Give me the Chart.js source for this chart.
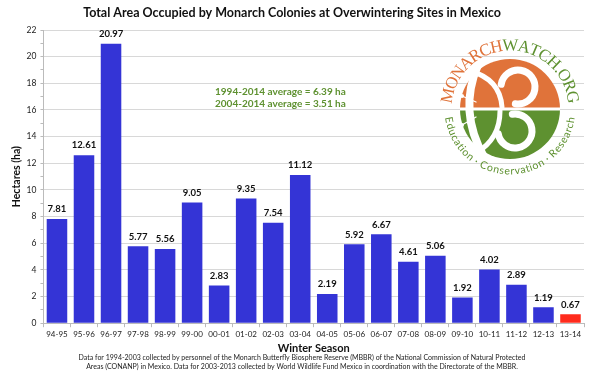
<!DOCTYPE html>
<html><head><meta charset="utf-8">
<script src="https://cdn.jsdelivr.net/npm/chart.js@4.4.1/dist/chart.umd.min.js"></script>
<style>html,body{margin:0;padding:0;background:#fff}#wrap{width:600px;height:377px}</style>
</head><body><div id="wrap"><canvas id="c" width="600" height="377"></canvas></div>
<script>
const seasons = ["94-95","95-96","96-97","97-98","98-99","99-00","00-01","01-02","02-03","03-04","04-05","05-06","06-07","07-08","08-09","09-10","10-11","11-12","12-13","13-14"];
const hectares = [7.81,12.61,20.97,5.77,5.56,9.05,2.83,9.35,7.54,11.12,2.19,5.92,6.67,4.61,5.06,1.92,4.02,2.89,1.19,0.67];
const averageNotes = ["1994-2014 average = 6.39 ha","2004-2014 average = 3.51 ha"];
const footnote = ["Data for 1994-2003 collected by personnel of the Monarch Butterfly Biosphere Reserve (MBBR) of the National Commission of Natural Protected","Areas (CONANP) in Mexico. Data for 2003-2013 collected by World Wildlife Fund Mexico in coordination with the Directorate of the MBBR."];
const logoTop = ["MONARCH","WATCH.ORG"];
const logoBottom = "Education · Conservation · Research";
const FONT = "Lato, 'Open Sans', sans-serif";
const BLUE = "#3434d6", RED = "#ff2b1c", GREEN = "#5e9130", ORANGE = "#e0733a";

const extras = {
  id: 'extras',
  afterDatasetsDraw(chart) {
    const ctx = chart.ctx;
    const meta = chart.getDatasetMeta(0);
    ctx.save();
    ctx.fillStyle = '#111';
    ctx.font = "bold 9.5px " + FONT;
    ctx.textAlign = 'center';
    ctx.textBaseline = 'bottom';
    meta.data.forEach((bar, i) => {
      ctx.fillText(hectares[i].toFixed(2), bar.x, bar.y - 5);
    });
    // averages
    ctx.fillStyle = GREEN;
    ctx.font = "bold 10px " + FONT;
    ctx.textAlign = 'left';
    ctx.textBaseline = 'middle';
    ctx.fillText(averageNotes[0], 215, 92);
    ctx.fillText(averageNotes[1], 215, 104);
    // footnote
    ctx.textAlign = 'center';
    ctx.fillStyle = '#222';
    ctx.font = "7px " + FONT;
    ctx.fillText(footnote[0], 302, 358);
    ctx.fillText(footnote[1], 302, 367);
    // logo
    const cx = 510, cy = 109, r = 50;
    ctx.beginPath(); ctx.arc(cx, cy, r, Math.PI, 2*Math.PI); ctx.closePath();
    ctx.fillStyle = ORANGE; ctx.fill();
    ctx.beginPath(); ctx.arc(cx, cy, r, 0, Math.PI); ctx.closePath();
    ctx.fillStyle = GREEN; ctx.fill();
    ctx.fillStyle = '#fff';
    ctx.fillRect(cx - r, cy - 1.5, 2*r, 3);
    // butterfly white strokes
    ctx.strokeStyle = '#fff'; ctx.lineCap = 'round';
    ctx.lineWidth = 8;
    ctx.beginPath(); ctx.moveTo(cx - 32, cy - 44); ctx.quadraticCurveTo(cx - 52, cy + 2, cx - 26, cy + 48); ctx.stroke();
    ctx.lineWidth = 7;
    ctx.beginPath(); ctx.arc(cx + 8, cy - 22, 17, Math.PI * 1.05, Math.PI * 2.55); ctx.stroke();
    ctx.beginPath(); ctx.arc(cx + 5, cy + 22, 17, Math.PI * 1.45, Math.PI * 2.95); ctx.stroke();
    ctx.lineWidth = 5;
    ctx.beginPath(); ctx.moveTo(cx - 40, cy - 38); ctx.quadraticCurveTo(cx - 10, cy - 30, cx - 8, cy - 2); ctx.stroke();
    ctx.beginPath(); ctx.moveTo(cx - 34, cy + 44); ctx.quadraticCurveTo(cx - 10, cy + 30, cx - 10, cy + 2); ctx.stroke();
    ctx.lineWidth = 1.3;
    ctx.beginPath(); ctx.moveTo(cx - 34, cy - 7); ctx.lineTo(cx - 48, cy - 13); ctx.stroke();
    ctx.beginPath(); ctx.moveTo(cx - 34, cy + 8); ctx.lineTo(cx - 48, cy + 16); ctx.stroke();
    ctx.fillStyle = '#fff';
    ctx.beginPath(); ctx.arc(cx - 48, cy - 13, 2, 0, 2*Math.PI); ctx.fill();
    ctx.beginPath(); ctx.arc(cx - 48, cy + 16, 2, 0, 2*Math.PI); ctx.fill();
    // arc text (proportional)
    function arcText(text, radius, startAng, endAng, colorFn, font, outsideUp) {
      ctx.font = font;
      const chars = text.split('');
      const widths = chars.map(ch => ctx.measureText(ch).width);
      const total = widths.reduce((a, b) => a + b, 0);
      let acc = 0;
      chars.forEach((ch, i) => {
        const frac = (acc + widths[i] / 2) / total;
        acc += widths[i];
        const a = startAng + (endAng - startAng) * frac;
        ctx.save();
        ctx.translate(cx + radius * Math.cos(a), cy + radius * Math.sin(a));
        ctx.rotate(outsideUp ? a + Math.PI/2 : a - Math.PI/2);
        ctx.fillStyle = colorFn(i);
        ctx.textAlign = 'center'; ctx.textBaseline = 'middle';
        ctx.fillText(ch, 0, 0);
        ctx.restore();
      });
    }
    const topText = logoTop.join('');
    arcText(topText, 63, Math.PI * 1.03, Math.PI * 1.97, i => i < logoTop[0].length ? ORANGE : GREEN, "17px 'Liberation Serif', serif", true);
    arcText(logoBottom, 62, Math.PI * 0.96, Math.PI * 0.04, () => GREEN, "10.5px " + FONT, false);
    ctx.restore();
  }
};

new Chart(document.getElementById('c'), {
  type: 'bar',
  data: {
    labels: seasons,
    datasets: [{
      data: hectares,
      backgroundColor: hectares.map((v, i) => i === hectares.length - 1 ? RED : BLUE),
      categoryPercentage: 0.76,
      barPercentage: 1.0
    }]
  },
  options: {
    responsive: false,
    animation: false,
    devicePixelRatio: 1,
    layout: { padding: { left: 0, right: 16, top: 0, bottom: 22 } },
    plugins: {
      legend: { display: false },
      tooltip: { enabled: false },
      title: { display: true, text: 'Total Area Occupied by Monarch Colonies at Overwintering Sites in Mexico',
        font: { family: FONT, size: 12.5, weight: 'bold' }, color: '#111', padding: { top: 5, bottom: 10 } }
    },
    scales: {
      x: {
        grid: { display: true, drawOnChartArea: false, offset: true, tickLength: 4, color: '#bbb' },
        border: { color: '#bbb' },
        ticks: { font: { family: FONT, size: 8 }, color: '#222', maxRotation: 0, autoSkip: false, padding: 2 },
        title: { display: true, text: 'Winter Season', font: { family: FONT, size: 11, weight: 'bold' }, color: '#111', padding: { top: 1, bottom: 0 } }
      },
      y: {
        min: 0, max: 22,
        ticks: { stepSize: 1, font: { family: FONT, size: 8.5 }, color: '#222', padding: 4,
          callback: v => (v % 2 === 0 ? v : '') },
        grid: {
          color: ctx => (ctx.tick && ctx.tick.value % 2 === 0 && ctx.tick.value !== 0) ? '#d8d8d8' : 'rgba(0,0,0,0)',
          tickColor: '#bbb', tickLength: 3, drawTicks: true
        },
        border: { color: '#bbb' },
        title: { display: true, text: 'Hectares (ha)', font: { family: FONT, size: 10.5, weight: 'bold' }, color: '#111', padding: { top: 10, bottom: 0 } }
      }
    }
  },
  plugins: [extras]
});
</script></body></html>
